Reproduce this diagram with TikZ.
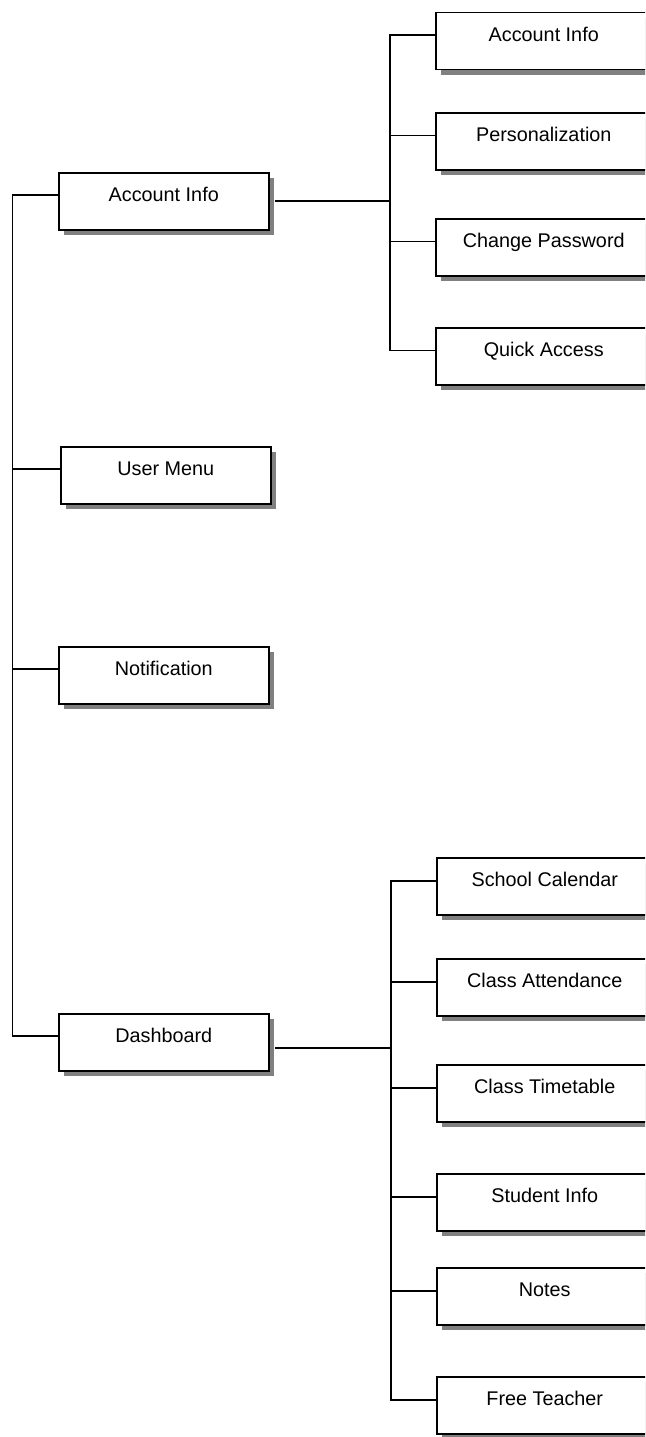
\documentclass[tikz,border=0pt]{standalone}
\usepackage{fontspec}
\setmainfont{Liberation Sans}
\definecolor{shadowgray}{RGB}{128,128,128}
\begin{document}
\begin{tikzpicture}[x=1pt,y=-1pt,
  box/.style={draw=black, line width=1.5pt, fill=white, minimum width=210pt,
    inner xsep=0pt, inner ysep=0pt, text height=29pt, text depth=28pt,
    anchor=north west, font=\fontsize{19.8}{22}\selectfont,
    preaction={fill=shadowgray, draw=none, transform canvas={shift={(5.5pt,-5.5pt)}}}},
  rbox/.style={box, minimum width=216pt},
  link/.style={line width=1.5pt}]
\useasboundingbox (0,0) rectangle (645,1437);
\clip (0,0) rectangle (645,1437);

% left column
\node[box] (l1) at (58,172) {Account Info};
\node[box] (l2) at (60,446) {User Menu};
\node[box] (l3) at (58,646) {Notification};
\node[box] (l4) at (58,1013) {Dashboard};

% right column, account group
\node[rbox] (ra1) at (435,12) {Account Info};
\node[rbox] (ra2) at (435,112) {Personalization};
\node[rbox] (ra3) at (435,218) {Change Password};
\node[rbox] (ra4) at (435,327) {Quick Access};

% right column, dashboard group
\node[rbox] (rd1) at (436,857) {School Calendar};
\node[rbox] (rd2) at (436,958) {Class Attendance};
\node[rbox] (rd3) at (436,1064) {Class Timetable};
\node[rbox] (rd4) at (436,1173) {Student Info};
\node[rbox] (rd5) at (436,1267) {Notes};
\node[rbox] (rd6) at (436,1376) {Free Teacher};

\coordinate (ja) at (390,201);
\coordinate (jd) at (391,1048);

% left tree
\draw[link] ([yshift=6.5pt]l1.west) -- ++(-45.5,0) |- ([yshift=6.5pt]l4.west);
\draw[link] ([yshift=6.5pt]l2.west) -- ++(-47.5,0);
\draw[link] ([yshift=6.5pt]l3.west) -- ++(-45.5,0);

% account group
\draw[link] ([xshift=5.5pt]ja -| l1.east) -- (ja);
\draw[link] ([yshift=6pt]ra1.west) -- ++(-45,0) |- ([yshift=6pt]ra4.west);
\draw[link] ([yshift=6pt]ra2.west) -- ++(-45,0);
\draw[link] ([yshift=6pt]ra3.west) -- ++(-45,0);

% dashboard group
\draw[link] ([xshift=5.5pt]jd -| l4.east) -- (jd);
\draw[link] ([yshift=5.5pt]rd1.west) -- ++(-45,0) |- ([yshift=5.5pt]rd6.west);
\draw[link] ([yshift=5.5pt]rd2.west) -- ++(-45,0);
\draw[link] ([yshift=5.5pt]rd3.west) -- ++(-45,0);
\draw[link] ([yshift=5.5pt]rd4.west) -- ++(-45,0);
\draw[link] ([yshift=5.5pt]rd5.west) -- ++(-45,0);
\end{tikzpicture}
\end{document}
